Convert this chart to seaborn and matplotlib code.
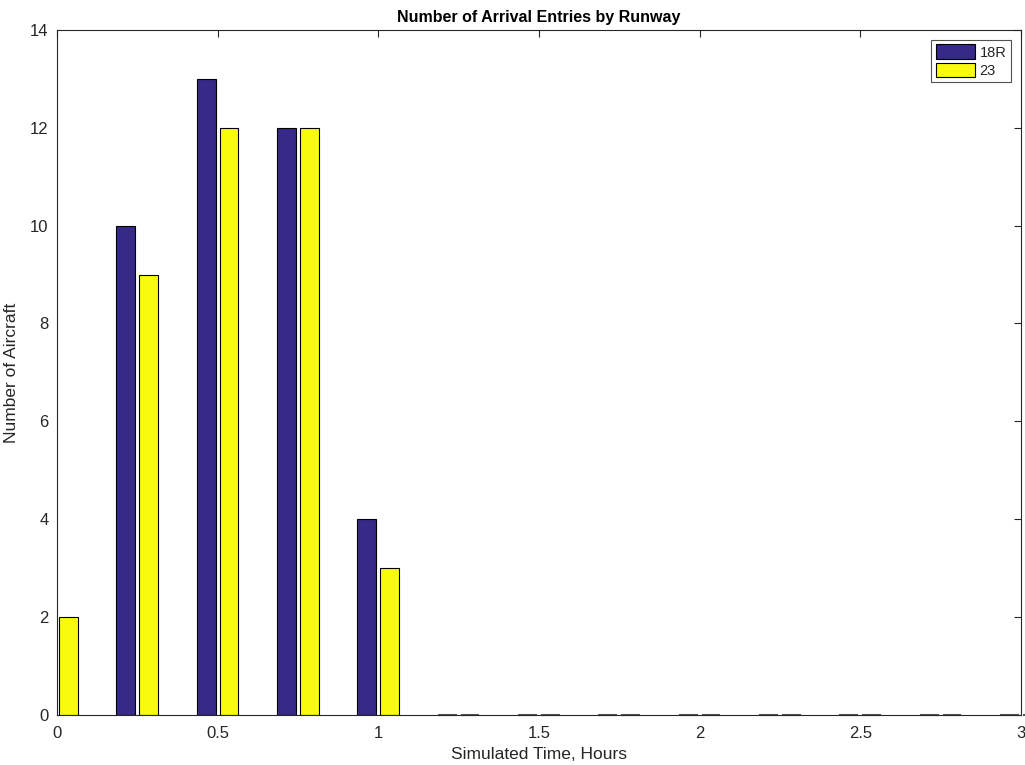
import matplotlib
matplotlib.use("Agg")
import matplotlib.pyplot as plt
import seaborn as sns
import pandas as pd

# time bins (hours) and arrival counts per runway
time_bins = [0.0, 0.25, 0.5, 0.75, 1.0, 1.25, 1.5, 1.75, 2.0, 2.25, 2.5, 2.75, 3.0]
runway_18r = [0, 10, 13, 12, 4, 0, 0, 0, 0, 0, 0, 0, 0]
runway_23 = [2, 9, 12, 12, 3, 0, 0, 0, 0, 0, 0, 0, 0]
runways = ["18R", "23"]
colors = ["#352a87", "#f9fb0e"]

df = pd.DataFrame({
    "time": time_bins * 2,
    "count": runway_18r + runway_23,
    "runway": ["18R"] * len(time_bins) + ["23"] * len(time_bins),
})

sns.set_style("white")
plt.rcParams["font.family"] = ["Liberation Sans", "DejaVu Sans"]

fig, ax = plt.subplots(figsize=(10.25, 7.65), dpi=100)
fig.subplots_adjust(left=0.0556, right=0.996, top=0.961, bottom=0.0654)

sns.barplot(data=df, x="time", y="count", hue="runway", hue_order=runways,
            palette=colors, native_scale=True, width=0.57, gap=0.18,
            edgecolor="black", linewidth=0.8, saturation=1, ax=ax)

ax.set_xlim(0, 3)
ax.set_ylim(0, 14)

leg = ax.legend(loc="upper right", fontsize=10.5, frameon=True, fancybox=False,
                edgecolor="#262626", handlelength=2.7, handleheight=1.15,
                handletextpad=0.3, borderpad=0.3, labelspacing=0.2,
                borderaxespad=0.7)
leg.get_frame().set_linewidth(0.8)
for h in leg.legend_handles:
    h.set_edgecolor("black")
    h.set_linewidth(0.8)

# zero-height bars show up as short grey dashes on the baseline in the original
for p in ax.patches:
    if p.get_height() == 0 and p.get_x() > 0:
        p.set_clip_on(False)
        p.set_edgecolor("#555555")
        p.set_linewidth(1.5)

ax.set_xticks([0, 0.5, 1, 1.5, 2, 2.5, 3])
ax.set_xticklabels(["0", "0.5", "1", "1.5", "2", "2.5", "3"])
ax.set_yticks(range(0, 15, 2))
ax.tick_params(direction="in", top=True, right=True, length=5, width=0.8,
               labelsize=12, colors="#262626")
ax.tick_params(axis="x", pad=8)
ax.tick_params(axis="y", pad=6)
for s in ax.spines.values():
    s.set_visible(True)
    s.set_color("#262626")
    s.set_linewidth(0.8)
    s.set_zorder(3)

ax.set_title("Number of Arrival Entries by Runway", fontsize=11.5,
             fontweight="bold", color="black", pad=6)
ax.set_xlabel("Simulated Time, Hours", fontsize=12.5, color="#262626", labelpad=4)
ax.set_ylabel("Number of Aircraft", fontsize=12.5, color="#262626", labelpad=8)

fig.savefig("out.png", dpi=100)
